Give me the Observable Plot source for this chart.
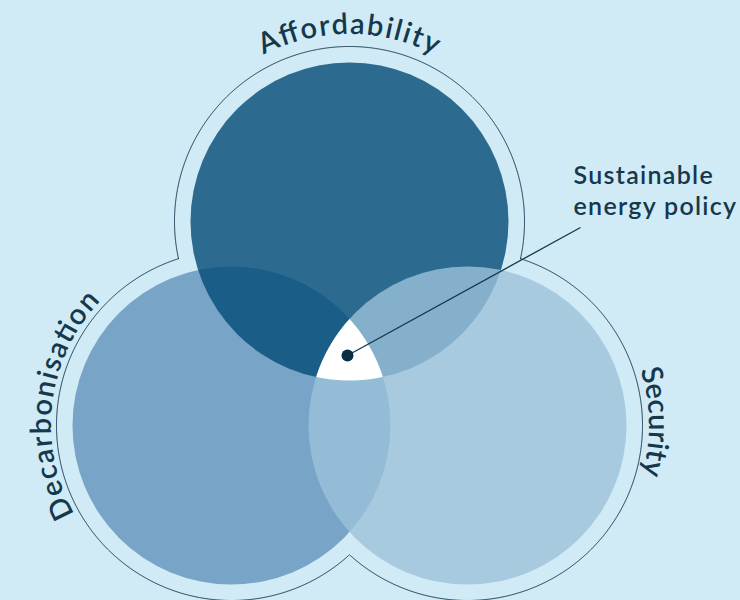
<!DOCTYPE html>
<html><head><meta charset="utf-8">
<script src="https://cdn.jsdelivr.net/npm/d3@7"></script>
<script src="https://cdn.jsdelivr.net/npm/@observablehq/plot@0.6"></script>
<style>
html,body{margin:0;padding:0;background:#d0ebf6;}
#chart svg{display:block;}
</style></head><body><div id="chart"></div>
<script>
// Venn circles, in drawing order
const circleNames = ["Decarbonisation", "Affordability", "Security"];
const circleX = [231, 349, 467];
const circleY = [425, 221, 425];
const circleR = [159, 159, 159];
const circleColors = ["#6092bc", "#024b76", "#9cc2da"];
const outlineR = 175;
// curved labels
const labelRadius = [180, 187, 182];
const labelAngle = [187, -90, -1];
const labelLength = [230, 178, 106];
// core label
const coreLines = ["Sustainable", "energy policy"];
const coreX = 573;
const coreY = [185, 216];
const leaderEnd = {x: 580, y: 227};

const ink = "#15384d";
const font = "Lato, 'Open Sans', sans-serif";
const circles = circleNames.map((name, i) => ({name, cx: circleX[i], cy: circleY[i], r: circleR[i], color: circleColors[i]}));
const coreText = coreLines.map((text, i) => ({x: coreX, y: coreY[i], text}));

// white triple intersection, derived from circles
const inside = (p, c, r) => Math.hypot(p[0] - c.cx, p[1] - c.cy) <= r + 0.01;
let core = [];
circles.forEach((c, i) => {
  for (let k = 0; k < 1440; k++) {
    const a = k / 1440 * 2 * Math.PI;
    const p = [c.cx + c.r * Math.cos(a), c.cy + c.r * Math.sin(a)];
    if (circles.every((o, j) => j === i || inside(p, o, o.r))) core.push(p);
  }
});
const coreC = [d3.mean(core, d => d[0]), d3.mean(core, d => d[1])];
core.sort((a, b) => Math.atan2(a[1] - coreC[1], a[0] - coreC[0]) - Math.atan2(b[1] - coreC[1], b[0] - coreC[0]));
const corePoly = core.map(p => ({x: p[0], y: p[1]}));

// outer outline: union of enlarged circles
const G = [d3.mean(circles, c => c.cx), d3.mean(circles, c => c.cy)];
const outline = [];
circles.forEach((c, i) => {
  const a0 = Math.atan2(G[1] - c.cy, G[0] - c.cx);
  for (let k = 0; k <= 1440; k++) {
    const a = a0 + k / 1440 * 2 * Math.PI;
    const p = [c.cx + outlineR * Math.cos(a), c.cy + outlineR * Math.sin(a)];
    if (circles.every((o, j) => j === i || Math.hypot(p[0] - o.cx, p[1] - o.cy) > outlineR)) outline.push({x: p[0], y: p[1], z: c.name});
  }
});

const labels = circles.map((c, i) => ({...c, R: labelRadius[i], ang: labelAngle[i], len: labelLength[i], i}));

const curvedText = (index, scales, values, dims, context) => {
  const g = d3.create("svg:g");
  for (const i of index) {
    const d = labels[i];
    const cx = scales.x(d.cx), cy = scales.y(d.cy);
    const R = scales.x(d.cx + d.R) - scales.x(d.cx);
    const t = d.ang * Math.PI / 180, span = Math.PI / 2;
    const x0 = cx + R * Math.cos(t - span), y0 = cy + R * Math.sin(t - span);
    const x1 = cx + R * Math.cos(t + span), y1 = cy + R * Math.sin(t + span);
    const id = "lblarc" + i;
    g.append("path").attr("id", id).attr("fill", "none").attr("stroke", "none")
      .attr("d", `M${x0},${y0}A${R},${R} 0 0 1 ${x1},${y1}`);
    g.append("text")
      .attr("font-family", font).attr("font-size", 29).attr("font-weight", 600).attr("fill", ink)
      .append("textPath").attr("href", "#" + id).attr("startOffset", "50%")
      .attr("text-anchor", "middle").attr("textLength", d.len).attr("lengthAdjust", "spacing")
      .text(d.name);
  }
  return g.node();
};

const spaced = (index, scales, values, dims, context, next) => {
  const g = next(index, scales, values, dims, context);
  g.setAttribute("letter-spacing", "1.3");
  return g;
};

const chart = Plot.plot({
  width: 740, height: 600,
  margin: 0,
  x: {domain: [0, 740], range: [0, 740], axis: null},
  y: {domain: [0, 600], range: [0, 600], axis: null},
  r: {type: "identity"},
  style: {background: "#d0ebf6"},
  marks: [
    Plot.line(outline, {x: "x", y: "y", z: "z", stroke: ink, strokeWidth: 1}),
    ...circles.map(c => Plot.dot([c], {x: "cx", y: "cy", r: "r", fill: "color", fillOpacity: 0.8, stroke: "none"})),
    Plot.line(corePoly, {x: "x", y: "y", fill: "white", stroke: "none", curve: "linear-closed"}),
    Plot.link([{x1: coreC[0] - 2, y1: coreC[1] - 2, x2: leaderEnd.x, y2: leaderEnd.y}], {x1: "x1", y1: "y1", x2: "x2", y2: "y2", stroke: ink, strokeWidth: 1.3}),
    Plot.dot([{x: coreC[0] - 2, y: coreC[1] - 2}], {x: "x", y: "y", r: 6, fill: "#0b2e44", stroke: "none"}),
    Plot.text(labels, {x: "cx", y: "cy", text: "name", render: curvedText}),
    Plot.text(coreText, {x: "x", y: "y", text: "text", textAnchor: "start", lineAnchor: "bottom", dy: -2, fontSize: 25, fontWeight: 600, fontFamily: font, fill: ink, render: spaced})
  ]
});
document.getElementById("chart").append(chart);
</script></body></html>
